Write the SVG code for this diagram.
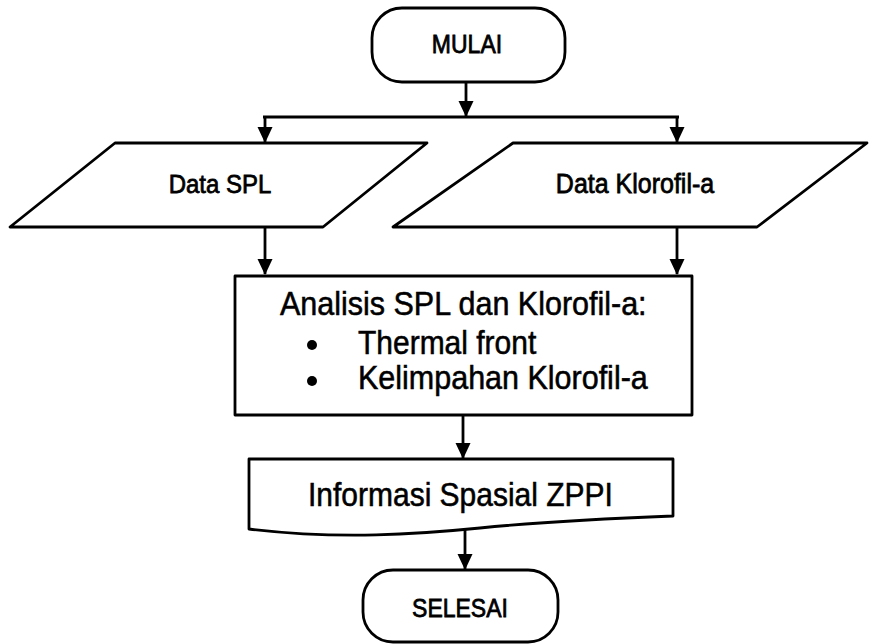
<svg xmlns="http://www.w3.org/2000/svg" width="869" height="644" viewBox="0 0 869 644">
  <style>
    .shape { fill: #ffffff; stroke: #000000; stroke-width: 2.8; stroke-linejoin: round; }
    .line { fill: none; stroke: #000000; stroke-width: 2.8; }
    .lbl { font-family: "Liberation Sans", Arial, sans-serif; fill: #000000; stroke: #000000; stroke-width: 0.7; }
    .big { stroke-width: 0.5; }
    .mid { text-anchor: middle; }
  </style>
  <defs>
    <marker id="arrow" viewBox="0 0 16 16" refX="15" refY="8" markerWidth="16" markerHeight="16" markerUnits="userSpaceOnUse" orient="auto">
      <path d="M0,0.5 L16,8 L0,15.5 Z" fill="#000000"/>
    </marker>
  </defs>
  <rect width="869" height="644" fill="#ffffff"/>

  <!-- connectors -->
  <g id="connectors">
    <line class="line" x1="466" y1="82" x2="466" y2="116" marker-end="url(#arrow)"/>
    <line class="line" x1="263" y1="117" x2="679" y2="117"/>
    <line class="line" x1="265" y1="117" x2="265" y2="142" marker-end="url(#arrow)"/>
    <line class="line" x1="677" y1="117" x2="677" y2="142" marker-end="url(#arrow)"/>
    <line class="line" x1="265" y1="227" x2="265" y2="274" marker-end="url(#arrow)"/>
    <line class="line" x1="677" y1="227" x2="677" y2="274" marker-end="url(#arrow)"/>
    <line class="line" x1="463" y1="415" x2="463" y2="458" marker-end="url(#arrow)"/>
    <line class="line" x1="465" y1="530" x2="465" y2="569" marker-end="url(#arrow)"/>
  </g>

  <!-- start terminator -->
  <g id="mulai">
    <rect class="shape" x="372" y="8" width="193" height="74" rx="30" ry="30"/>
    <text class="lbl mid" font-size="23" transform="translate(467 53) scale(1 1.12)">MULAI</text>
  </g>

  <!-- input: SPL data -->
  <g id="data-spl">
    <polygon class="shape" points="115,143 427,143 323,227 10,227"/>
    <text class="lbl mid" font-size="24" transform="translate(220 193) scale(1 1.08)">Data SPL</text>
  </g>

  <!-- input: chlorophyll-a data -->
  <g id="data-klorofil">
    <polygon class="shape" points="513,143 867,143 757,227 393,227"/>
    <text class="lbl mid" font-size="25" transform="translate(635 193) scale(1 1.08)">Data Klorofil-a</text>
  </g>

  <!-- analysis process -->
  <g id="analisis">
    <rect class="shape" x="235" y="276" width="457" height="139"/>
    <text class="lbl big" font-size="30.5" transform="translate(280 315) scale(1 1.1)">Analisis SPL dan Klorofil-a:</text>
    <circle cx="312" cy="345" r="5" fill="#000000"/>
    <text class="lbl big" font-size="30" transform="translate(358 354) scale(1 1.1)">Thermal front</text>
    <circle cx="312" cy="381" r="5" fill="#000000"/>
    <text class="lbl big" font-size="30.5" transform="translate(358 389) scale(1 1.1)">Kelimpahan Klorofil-a</text>
  </g>

  <!-- output document -->
  <g id="informasi">
    <path class="shape" d="M249,459 L673,459 L673,516 C620,518 540,522 480,528 C420,534 340,540 249,529 Z"/>
    <text class="lbl big" font-size="30" transform="translate(308 506) scale(1 1.1)">Informasi Spasial ZPPI</text>
  </g>

  <!-- end terminator -->
  <g id="selesai">
    <rect class="shape" x="363" y="570" width="195" height="72" rx="30" ry="30"/>
    <text class="lbl mid" font-size="23" transform="translate(460 617) scale(1 1.12)">SELESAI</text>
  </g>
</svg>
